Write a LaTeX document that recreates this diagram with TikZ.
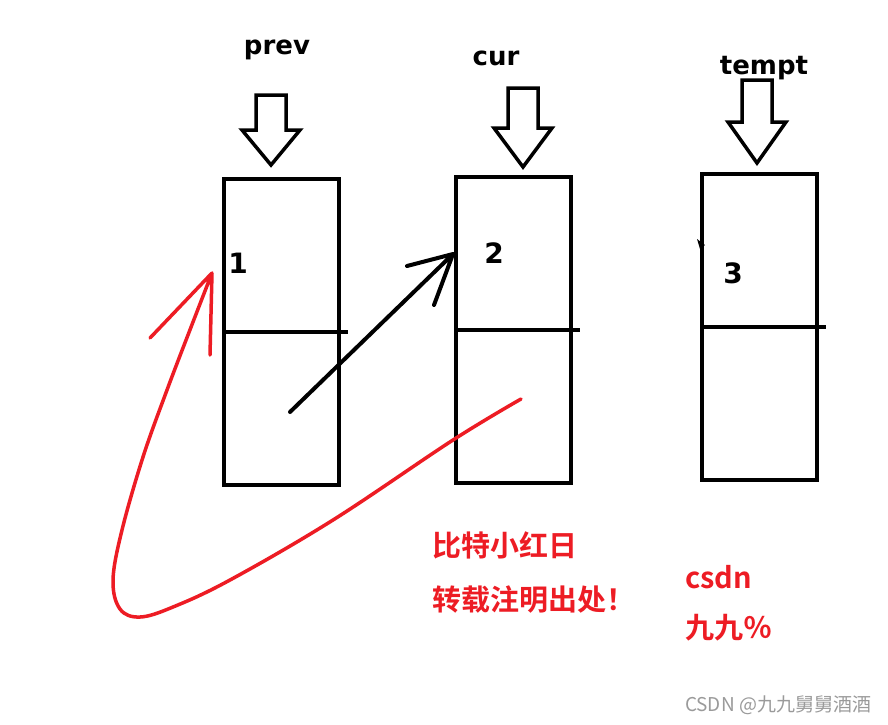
\documentclass[tikz,border=0pt]{standalone}
\usepackage{fontspec}
\setsansfont{DejaVu Sans}
\newfontfamily\cjk{Noto Sans CJK SC}[BoldFont={Noto Sans CJK SC Bold}]

\begin{document}
\begin{tikzpicture}[x=1pt,y=-1pt,line width=4pt]
  \definecolor{pen}{HTML}{ED1C24}
  \definecolor{stamp}{HTML}{9A9A9A}
  \path[use as bounding box] (0,0) rectangle (888,724);
  \fill[white] (0,0) rectangle (888,724);

  \tikzset{cell/.style={draw,minimum width=115pt,minimum height=306pt,inner sep=0pt},
           ptr/.style={font=\sffamily\bfseries\fontsize{26}{30}\selectfont,inner sep=0pt},
           val/.style={font=\sffamily\bfseries\fontsize{28}{32}\selectfont,inner sep=0pt},
           note/.style={font=\cjk\bfseries\fontsize{29}{34}\selectfont,text=pen,anchor=west,inner sep=0pt}}

  % list nodes, each split into data and next halves
  \node[cell] (box1) at (281.5,332) {};
  \node[cell] (box2) at (513.5,330) {};
  \node[cell] (box3) at (759.5,327) {};
  \foreach \b in {box1,box2,box3}
    \draw (\b.west) -- ([xshift=7pt]\b.east);

  % hollow pointer arrows
  \foreach \x/\top/\sh/\tip in {271/95/130/165, 523/88/128/167, 757/80/122/163}
    \draw[line width=3.5pt] (\x-15,\top) -- (\x+15,\top) -- (\x+15,\sh) -- (\x+29,\sh)
      -- (\x,\tip) -- (\x-29,\sh) -- (\x-15,\sh) -- cycle;

  \node[ptr] (prev) at (277,50) {prev};
  \node[ptr] (cur) at (496,58) {cur};
  \node[ptr] (tempt) at (764,68) {tempt};

  \node[val] (v1) at (238,263) {1};
  \node[val] (v2) at (494,253) {2};
  \node[val] (v3) at (733,273) {3};

  % old link 1 -> 2
  \coordinate (p1) at (290,412);
  \coordinate (h2) at (453,254);
  \draw[line cap=round] (p1) -- (h2) (h2) -- (407,266) (h2) -- (434,305);
  \fill (697,239) -- (705,245) -- (700,249) -- cycle;

  % reversed link 2 -> 1
  \coordinate (p2) at (521,399);
  \coordinate (h1) at (212,273);
  \draw[pen,line width=3.5pt,line cap=round,line join=round]
    plot[smooth,tension=0.6] coordinates {(p2) (453,440) (333,520) (230,580) (173,607) (140,617)
      (120,609) (113,580) (122,530) (143,457) (167,390) (193,322) (h1)}
    (h1) -- (150,338) (h1) -- (210,355);

  \node[note] (n1) at (430,545) {比特小红日};
  \node[note] (n2) at (430,600) {转载注明出处！};
  \node[note] (n3) at (683,577) {csdn};
  \node[note] (n4) at (683,628) {九九％};
  \node[font=\cjk\fontsize{19}{22}\selectfont,text=stamp,anchor=east,inner sep=0pt] (wm) at (873,705) {CSDN @九九舅舅酒酒};
\end{tikzpicture}
\end{document}
